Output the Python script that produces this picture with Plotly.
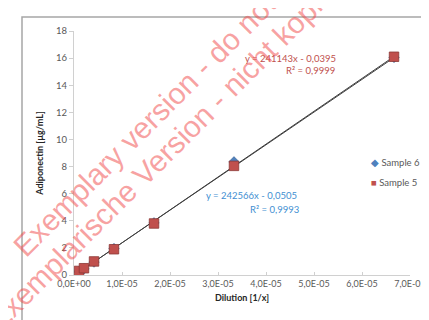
import numpy as np
import plotly.graph_objects as go

# ---- data ----
dilution = [1.04e-6, 2.08e-6, 4.17e-6, 8.33e-6, 1.667e-5, 3.333e-5, 6.667e-5]
sample6 = [0.25, 0.45, 0.95, 1.95, 3.85, 8.35, 16.05]
sample5 = [0.3, 0.5, 1.0, 1.9, 3.8, 8.05, 16.1]
fit5 = (241143, -0.0395)
fit6 = (242566, -0.0505)
xtick_vals = [0, 1e-5, 2e-5, 3e-5, 4e-5, 5e-5, 6e-5, 7e-5]
xtick_text = ["0,0E+00", "1,0E-05", "2,0E-05", "3,0E-05", "4,0E-05", "5,0E-05", "6,0E-05", "7,0E-05"]
ytick_vals = [0, 2, 4, 6, 8, 10, 12, 14, 16, 18]

FONT = "Lato"
GRAY = "#595959"
RED = "#C0504D"
BLUE = "#4F81BD"

W, H = 429, 320
L, R, T, B = 66, 27, 23, 53
pw, ph = W - L - R, H - T - B


def px(x):
    return (x - L) / pw


def py(y):
    return (H - B - y) / ph


fig = go.Figure()
xs = np.array([min(dilution), max(dilution)])
fig.add_trace(go.Scatter(x=xs, y=fit6[0] * xs + fit6[1], mode="lines",
                         line=dict(color="#404040", width=1), showlegend=False))
fig.add_trace(go.Scatter(x=xs, y=fit5[0] * xs + fit5[1], mode="lines",
                         line=dict(color="#404040", width=1), showlegend=False))
fig.add_trace(go.Scatter(x=dilution, y=sample6, mode="markers", name="Sample 6",
                         marker=dict(symbol="diamond", size=8, color=BLUE,
                                     line=dict(color="#385D8A", width=0.5)),
                         showlegend=False))
fig.add_trace(go.Scatter(x=dilution, y=sample5, mode="markers", name="Sample 5",
                         marker=dict(symbol="square", size=9.5, color=RED,
                                     line=dict(color="#8C3836", width=0.8)),
                         showlegend=False))

ann = []
# legend
ann.append(dict(x=px(361), y=py(154), xref="paper", yref="paper", xanchor="left", yanchor="middle",
                text="<span style='color:%s'>◆</span> Sample 6" % BLUE, showarrow=False,
                font=dict(family=FONT, size=9.5, color=GRAY)))
ann.append(dict(x=px(361), y=py(174), xref="paper", yref="paper", xanchor="left", yanchor="middle",
                text="<span style='color:%s'>■</span> Sample 5" % RED, showarrow=False,
                font=dict(family=FONT, size=9.5, color=GRAY)))
# equations
ann.append(dict(x=px(330), y=py(43), xref="paper", yref="paper", showarrow=False,
                text="y = 241143x - 0,0395", font=dict(family=FONT, size=9.5, color=RED)))
ann.append(dict(x=px(329), y=py(55), xref="paper", yref="paper", showarrow=False,
                text="R² = 0,9999", font=dict(family=FONT, size=9.5, color=RED)))
ann.append(dict(x=px(291), y=py(195), xref="paper", yref="paper", showarrow=False,
                text="y = 242566x - 0,0505", font=dict(family=FONT, size=9.5, color="#3F8FD2")))
ann.append(dict(x=px(293), y=py(209), xref="paper", yref="paper", showarrow=False,
                text="R² = 0,9993", font=dict(family=FONT, size=9.5, color="#3F8FD2")))
# watermark
WM = dict(family="Liberation Sans", size=30, color="rgba(240,70,70,0.5)")
ann.append(dict(x=px(-4), y=py(258), xref="paper", yref="paper", xanchor="left", yanchor="bottom",
                text="Exemplary version - do not copy", textangle=-45, showarrow=False, font=WM))
ann.append(dict(x=px(-30), y=py(331), xref="paper", yref="paper", xanchor="left", yanchor="bottom",
                text="Exemplarische Version - nicht kopieren", textangle=-45, showarrow=False, font=WM))

shapes = [dict(type="rect", xref="paper", yref="paper", x0=px(14), x1=px(428), y0=py(317), y1=py(9),
               line=dict(color="#A6A6A6", width=1.5), layer="below")]

fig.update_layout(
    width=W, height=H, margin=dict(l=L, r=R, t=T, b=B),
    paper_bgcolor="white", plot_bgcolor="white",
    font=dict(family=FONT, size=9, color=GRAY),
    annotations=ann, shapes=shapes, hovermode=False,
    xaxis=dict(range=[0, 7e-5], tickvals=xtick_vals, ticktext=xtick_text,
               showgrid=False, zeroline=False, showline=True, linecolor="#D0D0D0",
               ticks="inside", ticklen=3, tickcolor="#D0D0D0",
               tickfont=dict(family=FONT, size=9, color=GRAY),
               title=dict(text="<b>Dilution [1/x]</b>", font=dict(family=FONT, size=9, color="#262626"),
                          standoff=6)),
    yaxis=dict(range=[0, 18], tickvals=ytick_vals,
               showgrid=False, zeroline=False, showline=True, linecolor="#D0D0D0",
               ticks="outside", ticklen=4, tickcolor="#D0D0D0",
               tickfont=dict(family=FONT, size=9.5, color=GRAY),
               title=dict(text="<b>Adiponectin [µg/mL]</b>", font=dict(family=FONT, size=9, color="#262626"),
                          standoff=10)),
)

fig.write_html("out.html", config={"displayModeBar": False})
